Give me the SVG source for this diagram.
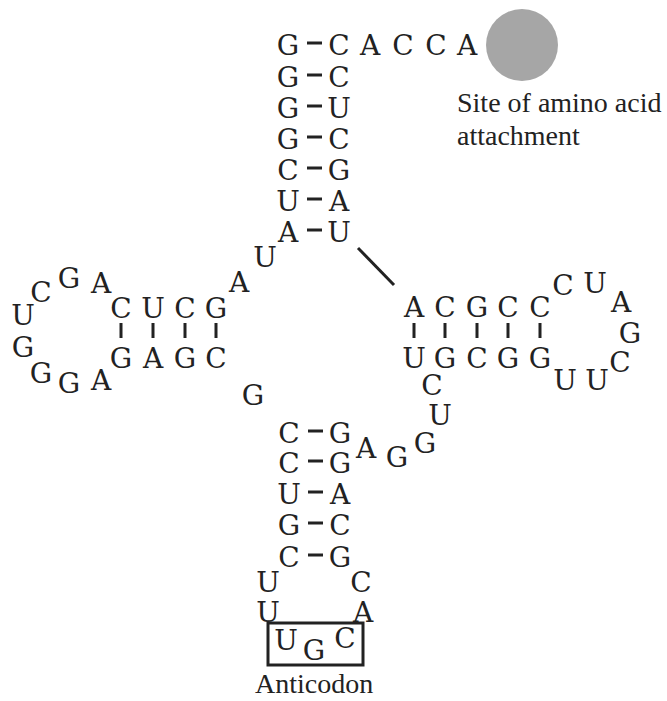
<svg xmlns="http://www.w3.org/2000/svg" width="667" height="701" viewBox="0 0 667 701">
<style>
.n{font-family:"DejaVu Serif",serif;font-size:28px;fill:#222;text-anchor:middle}
.l{font-family:"Liberation Serif","Times New Roman",serif;font-size:28px;fill:#222}
.b{stroke:#222;stroke-width:3;fill:none}
</style>
<rect width="667" height="701" fill="#fff"/>
<g id="acceptor-stem">
<text class="n" x="288" y="55">G</text><text class="n" x="339" y="55">C</text>
<text class="n" x="370" y="55">A</text><text class="n" x="403" y="55">C</text><text class="n" x="436" y="55">C</text><text class="n" x="467" y="55">A</text>
<text class="n" x="288" y="87">G</text><text class="n" x="339" y="87">C</text>
<text class="n" x="288" y="118">G</text><text class="n" x="339" y="118">U</text>
<text class="n" x="288" y="149">G</text><text class="n" x="339" y="149">C</text>
<text class="n" x="288" y="180">C</text><text class="n" x="339" y="180">G</text>
<text class="n" x="288" y="211">U</text><text class="n" x="339" y="211">A</text>
<text class="n" x="288" y="242">A</text><text class="n" x="339" y="242">U</text>
</g>
<g id="amino-acid-site">
<circle cx="522" cy="45" r="36" fill="#a6a6a6"/>
<text class="l" x="457" y="112">Site of amino acid</text>
<text class="l" x="457" y="145">attachment</text>
</g>
<g id="linker">
<text class="n" x="265" y="267">U</text>
<text class="n" x="239" y="292">A</text>
<text class="n" x="253" y="405">G</text>
</g>
<g id="d-arm">
<text class="n" x="121" y="318">C</text><text class="n" x="153" y="318">U</text><text class="n" x="185" y="318">C</text><text class="n" x="216" y="318">G</text>
<text class="n" x="121" y="368">G</text><text class="n" x="153" y="368">A</text><text class="n" x="185" y="368">G</text><text class="n" x="216" y="368">C</text>
<text class="n" x="101" y="293">A</text><text class="n" x="69" y="288">G</text><text class="n" x="41" y="302">C</text><text class="n" x="23" y="325">U</text>
<text class="n" x="23" y="357">G</text><text class="n" x="41" y="383">G</text><text class="n" x="69" y="393">G</text><text class="n" x="101" y="390">A</text>
</g>
<g id="t-arm">
<text class="n" x="414" y="317">A</text><text class="n" x="445" y="317">C</text><text class="n" x="477" y="317">G</text><text class="n" x="508" y="317">C</text><text class="n" x="540" y="317">C</text>
<text class="n" x="414" y="368">U</text><text class="n" x="445" y="368">G</text><text class="n" x="477" y="368">C</text><text class="n" x="508" y="368">G</text><text class="n" x="540" y="368">G</text>
<text class="n" x="563" y="295">C</text><text class="n" x="595" y="293">U</text><text class="n" x="621" y="312">A</text><text class="n" x="630" y="343">G</text>
<text class="n" x="620" y="372">C</text><text class="n" x="597" y="390">U</text><text class="n" x="565" y="390">U</text>
</g>
<g id="variable-loop">
<text class="n" x="432" y="395">C</text><text class="n" x="440" y="425">U</text><text class="n" x="425" y="453">G</text><text class="n" x="397" y="467">G</text><text class="n" x="366" y="458">A</text>
</g>
<g id="anticodon-arm">
<text class="n" x="289" y="443">C</text><text class="n" x="340" y="443">G</text>
<text class="n" x="289" y="473">C</text><text class="n" x="340" y="473">G</text>
<text class="n" x="289" y="504">U</text><text class="n" x="340" y="504">A</text>
<text class="n" x="289" y="535">G</text><text class="n" x="340" y="535">C</text>
<text class="n" x="289" y="567">C</text><text class="n" x="340" y="567">G</text>
<text class="n" x="268" y="592">U</text><text class="n" x="361" y="592">C</text>
<text class="n" x="268" y="622">U</text><text class="n" x="363" y="622">A</text>
</g>
<g id="anticodon">
<rect class="b" x="268" y="623" width="95" height="42"/>
<text class="n" x="286" y="650">U</text><text class="n" x="314" y="660">G</text><text class="n" x="345" y="648">C</text>
<text class="l" x="255" y="693">Anticodon</text>
</g>
<g id="connectors" class="b">
<path d="M307 43H322M307 75H322M307 106H322M307 137H322M307 168H322M307 199H322M307 230H322"/>
<path d="M308 431H323M308 461H323M308 492H323M308 523H323M308 555H323"/>
<path d="M121 323V338M153 323V338M185 323V338M216 323V338"/>
<path d="M414 323V338M445 323V338M477 323V338M508 323V338M540 323V338"/>
<path d="M358 248L394 285"/>
</g>
</svg>
